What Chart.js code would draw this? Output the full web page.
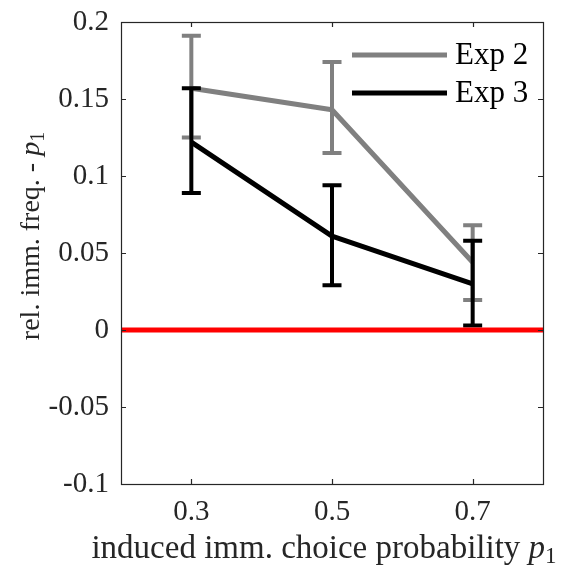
<!DOCTYPE html>
<html>
<head>
<meta charset="utf-8">
<script src="https://cdn.jsdelivr.net/npm/chart.js@4/dist/chart.umd.min.js"></script>
<style>
  html, body { margin: 0; padding: 0; background: #fff; }
  #wrap { width: 573px; height: 568px; }
</style>
</head>
<body>
<div id="wrap"><canvas id="c" width="573" height="568"></canvas></div>
<script>
// ---- data ----
const xValues = [0.3, 0.5, 0.7];
const xTickLabels = ['0.3', '0.5', '0.7'];
const xRange = [0.2, 0.8];
const yTickValues = [-0.1, -0.05, 0, 0.05, 0.1, 0.15, 0.2];
const yTickLabels = ['-0.1', '-0.05', '0', '0.05', '0.1', '0.15', '0.2'];
const seriesNames = ['Exp 2', 'Exp 3'];
const exp2Mean  = [0.157, 0.143, 0.044];
const exp2Upper = [0.191, 0.174, 0.068];
const exp2Lower = [0.125, 0.115, 0.0195];
const exp3Mean  = [0.122, 0.061, 0.030];
const exp3Upper = [0.157, 0.094, 0.058];
const exp3Lower = [0.089, 0.029, 0.003];
const referenceLevel = 0;

const FONT = 'Liberation Serif';
const AXIS_COLOR = '#262626';

function pts(xs, ys) { return xs.map((x, i) => ({ x: x, y: ys[i] })); }

const errorBars = {
  1: { color: '#000000', lower: exp3Lower, upper: exp3Upper },
  2: { color: '#808080', lower: exp2Lower, upper: exp2Upper }
};

const plugin = {
  id: 'matlabStyle',
  afterDatasetDraw(chart, args) {
    const eb = errorBars[args.index];
    if (!eb) return;
    const ctx = chart.ctx, xs = chart.scales.x, ys = chart.scales.y;
    ctx.save();
    ctx.strokeStyle = eb.color;
    ctx.lineWidth = 4;
    ctx.lineCap = 'butt';
    xValues.forEach((xv, i) => {
      const px = xs.getPixelForValue(xv);
      const pl = ys.getPixelForValue(eb.lower[i]);
      const pu = ys.getPixelForValue(eb.upper[i]);
      ctx.beginPath();
      ctx.moveTo(px, pl); ctx.lineTo(px, pu);
      ctx.moveTo(px - 9.5, pl); ctx.lineTo(px + 9.5, pl);
      ctx.moveTo(px - 9.5, pu); ctx.lineTo(px + 9.5, pu);
      ctx.stroke();
    });
    ctx.restore();
  },
  afterDraw(chart) {
    const ctx = chart.ctx, a = chart.chartArea;
    const xs = chart.scales.x, ys = chart.scales.y;
    ctx.save();
    // box
    ctx.strokeStyle = AXIS_COLOR;
    ctx.lineWidth = 1.2;
    ctx.strokeRect(Math.round(a.left) + 0.5, Math.round(a.top) + 0.5,
                   Math.round(a.right - a.left), Math.round(a.bottom - a.top));
    // inward ticks
    const tl = 5;
    ctx.beginPath();
    xValues.forEach(v => {
      const p = Math.round(xs.getPixelForValue(v)) + 0.5;
      ctx.moveTo(p, a.bottom); ctx.lineTo(p, a.bottom - tl);
      ctx.moveTo(p, a.top); ctx.lineTo(p, a.top + tl);
    });
    yTickValues.forEach(v => {
      const p = Math.round(ys.getPixelForValue(v)) + 0.5;
      ctx.moveTo(a.left, p); ctx.lineTo(a.left + tl, p);
      ctx.moveTo(a.right, p); ctx.lineTo(a.right - tl, p);
    });
    ctx.stroke();

    // legend
    const legend = [
      { name: seriesNames[0], color: '#808080', y: 55 },
      { name: seriesNames[1], color: '#000000', y: 93 }
    ];
    legend.forEach(l => {
      ctx.strokeStyle = l.color;
      ctx.lineWidth = 5;
      ctx.beginPath();
      ctx.moveTo(352, l.y); ctx.lineTo(447, l.y);
      ctx.stroke();
      ctx.fillStyle = '#000';
      ctx.font = '31px "' + FONT + '"';
      ctx.textAlign = 'left';
      ctx.textBaseline = 'alphabetic';
      ctx.fillText(l.name, 455, l.y + 9);
    });

    // axis titles with italic p and subscript 1
    function drawMath(parts, cx, cy) {
      let total = 0;
      parts.forEach(p => { ctx.font = p.font; p.w = ctx.measureText(p.t).width; total += p.w; });
      let x = cx - total / 2;
      parts.forEach(p => {
        ctx.font = p.font;
        ctx.fillText(p.t, x, cy + (p.dy || 0));
        x += p.w;
      });
    }
    ctx.fillStyle = '#262626';
    ctx.textAlign = 'left';
    ctx.textBaseline = 'alphabetic';
    const xt = [
      { t: 'induced imm. choice probability ', font: '33px "' + FONT + '"' },
      { t: 'p', font: 'italic 33px "' + FONT + '"' },
      { t: '1', font: '23px "' + FONT + '"', dy: 5 }
    ];
    drawMath(xt, 324, 558);
    ctx.save();
    ctx.translate(39, 236);
    ctx.rotate(-Math.PI / 2);
    const yt = [
      { t: 'rel. imm. freq. - ', font: '28px "' + FONT + '"' },
      { t: 'p', font: 'italic 28px "' + FONT + '"' },
      { t: '1', font: '20px "' + FONT + '"', dy: 5 }
    ];
    drawMath(yt, 0, 0);
    ctx.restore();
    ctx.restore();
  }
};

Chart.defaults.font.family = FONT;
Chart.defaults.font.size = 29;
Chart.defaults.color = AXIS_COLOR;

new Chart(document.getElementById('c'), {
  type: 'line',
  data: {
    datasets: [
      {
        label: 'zero',
        data: [{ x: xRange[0], y: referenceLevel }, { x: xRange[1], y: referenceLevel }],
        borderColor: '#ff0000', borderWidth: 5, pointRadius: 0, order: 0,
        borderCapStyle: 'butt'
      },
      {
        label: seriesNames[1],
        data: pts(xValues, exp3Mean),
        borderColor: '#000000', borderWidth: 5, pointRadius: 0, order: 1,
        borderJoinStyle: 'round'
      },
      {
        label: seriesNames[0],
        data: pts(xValues, exp2Mean),
        borderColor: '#808080', borderWidth: 5, pointRadius: 0, order: 2,
        borderJoinStyle: 'round'
      }
    ]
  },
  options: {
    responsive: false,
    animation: false,
    devicePixelRatio: 1,
    layout: { padding: { top: 22, right: 30, left: 0, bottom: 0 } },
    plugins: { legend: { display: false }, tooltip: { enabled: false } },
    scales: {
      x: {
        type: 'linear',
        min: xRange[0], max: xRange[1],
        afterBuildTicks: s => { s.ticks = xValues.map(v => ({ value: v })); },
        afterFit: s => { s.height = 84; s.paddingLeft = 0; s.paddingRight = 0; },
        grid: { display: false, drawTicks: false },
        border: { display: false },
        ticks: {
          padding: 11,
          callback: v => xTickLabels[xValues.indexOf(v)],
          maxRotation: 0, autoSkip: false
        }
      },
      y: {
        min: yTickValues[0], max: yTickValues[yTickValues.length - 1],
        afterBuildTicks: s => { s.ticks = yTickValues.map(v => ({ value: v })); },
        afterFit: s => { s.width = 121; s.paddingTop = 0; s.paddingBottom = 0; },
        grid: { display: false, drawTicks: false },
        border: { display: false },
        ticks: {
          padding: 12,
          callback: v => yTickLabels[yTickValues.indexOf(v)],
          autoSkip: false
        }
      }
    }
  },
  plugins: [plugin]
});
</script>
</body>
</html>
